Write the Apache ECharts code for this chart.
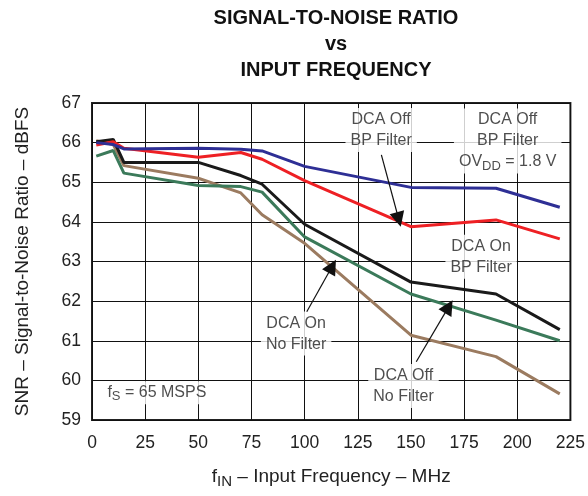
<!DOCTYPE html>
<html>
<head>
<meta charset="utf-8">
<script src="https://cdn.jsdelivr.net/npm/echarts@6/dist/echarts.min.js"></script>
<style>
  html, body { margin: 0; padding: 0; background: #fff; }
  #chart { width: 588px; height: 496px; }
</style>
</head>
<body>
<div id="chart"></div>
<script>
// frequencies (MHz)
var freqs = [2, 10, 15, 50, 70, 80, 100, 150, 190, 220];

// SNR values (dBFS)
var dcaOffBpOvdd = [66.0, 65.95, 65.84, 65.86, 65.83, 65.79, 65.4, 64.87, 64.85, 64.37];
var dcaOffBp     = [65.94, 66.02, 65.86, 65.63, 65.75, 65.58, 65.04, 63.88, 64.05, 63.57];
var dcaOnBp      = [66.02, 66.08, 65.5, 65.5, 65.17, 64.95, 63.94, 62.48, 62.18, 61.28];
var dcaOnNoFilt  = [65.66, 65.8, 65.23, 64.92, 64.89, 64.75, 63.62, 62.18, 61.52, 61.0];
var dcaOffNoFilt = [66.05, 65.95, 65.42, 65.1, 64.73, 64.18, 63.46, 61.14, 60.6, 59.66];

var xTicks = [0, 25, 50, 75, 100, 125, 150, 175, 200, 225];
var yTicks = [59, 60, 61, 62, 63, 64, 65, 66, 67];

// annotation texts, anchored in data coords [x, y, text]
var notes = [
  [136, 66.32, 'DCA Off\nBP Filter'],
  [195.5, 66.04, 'DCA Off\nBP Filter\nOV{s|DD} = 1.8 V'],
  [183, 63.12, 'DCA On\nBP Filter'],
  [96, 61.18, 'DCA On\nNo Filter'],
  [146.5, 59.86, 'DCA Off\nNo Filter'],
  [30.5, 59.69, 'f{s|S} = 65 MSPS']
];
// arrows [from, to]
var arrows = [
  [[136.1, 65.69], [144.3, 64.06]],
  [[101, 61.73], [113, 62.88]],
  [[152.5, 60.47], [167.8, 61.86]]
];

function pairs(ys) {
  return freqs.map(function (f, i) { return [f, ys[i]]; });
}

var font = 'Liberation Sans, Arial, sans-serif';
var chart = echarts.init(document.getElementById('chart'));

function lineSeries(name, ys, color) {
  return {
    name: name,
    type: 'line',
    data: pairs(ys),
    symbol: 'none',
    lineStyle: { color: color, width: 3 },
    z: 3
  };
}

chart.setOption({
  animation: false,
  backgroundColor: '#fff',
  title: {
    text: 'SIGNAL-TO-NOISE RATIO\nvs\nINPUT FREQUENCY',
    left: 331,
    top: 0,
    textAlign: 'center',
    textStyle: { fontFamily: font, fontSize: 20, fontWeight: 'bold', color: '#111', lineHeight: 26 }
  },
  grid: {
    left: 92, right: 15, top: 103, bottom: 76,
    show: true, borderColor: '#222', borderWidth: 2, backgroundColor: 'transparent'
  },
  xAxis: {
    type: 'value', min: 0, max: 225, interval: 25,
    name: 'f{s|IN} – Input Frequency – MHz',
    nameLocation: 'middle', nameGap: 45,
    nameTextStyle: {
      fontFamily: font, fontSize: 19, color: '#222',
      rich: { s: { fontFamily: font, fontSize: 15, color: '#222', padding: [9, 0, 0, 0] } }
    },
    axisLine: { show: false },
    axisTick: { show: false },
    axisLabel: {
      fontFamily: font, fontSize: 17.5, color: '#222', margin: 14,
      formatter: function (v) { return xTicks.indexOf(v) >= 0 ? String(v) : ''; }
    },
    splitLine: { show: true, lineStyle: { color: '#111', width: 1 } }
  },
  yAxis: {
    type: 'value', min: 59, max: 67, interval: 1,
    name: 'SNR – Signal-to-Noise Ratio – dBFS',
    nameLocation: 'middle', nameGap: 60,
    nameTextStyle: { fontFamily: font, fontSize: 19, color: '#222' },
    axisLine: { show: false },
    axisTick: { show: false },
    axisLabel: {
      fontFamily: font, fontSize: 17.5, color: '#222', margin: 11,
      formatter: function (v) { return yTicks.indexOf(v) >= 0 ? String(v) : ''; }
    },
    splitLine: { show: true, lineStyle: { color: '#111', width: 1 } }
  },
  series: [
    lineSeries('DCA Off No Filter', dcaOffNoFilt, '#9b7b60'),
    lineSeries('DCA On No Filter', dcaOnNoFilt, '#3b7a5a'),
    lineSeries('DCA On BP Filter', dcaOnBp, '#1a1a1a'),
    lineSeries('DCA Off BP Filter', dcaOffBp, '#ee2024'),
    lineSeries('DCA Off BP Filter OVDD 1.8V', dcaOffBpOvdd, '#2e2f95'),
    {
      type: 'scatter',
      data: notes,
      symbolSize: 0,
      z: 4,
      label: {
        show: true,
        position: 'inside',
        align: 'center',
        verticalAlign: 'middle',
        formatter: function (p) { return p.data[2]; },
        fontFamily: font, fontSize: 16, color: '#222', lineHeight: 21,
        backgroundColor: '#fff',
        padding: [1, 5, 1, 5],
        rich: { s: { fontFamily: font, fontSize: 13, color: '#222', padding: [8, 0, 0, 0] } }
      }
    },
    {
      type: 'lines',
      coordinateSystem: 'cartesian2d',
      data: arrows.map(function (a) { return { coords: a }; }),
      symbol: ['none', 'triangle'],
      symbolSize: [0, 15],
      lineStyle: { color: '#111', width: 1.2, opacity: 1, curveness: 0 },
      itemStyle: { color: '#111' },
      z: 5
    }
  ]
});
</script>
</body>
</html>
